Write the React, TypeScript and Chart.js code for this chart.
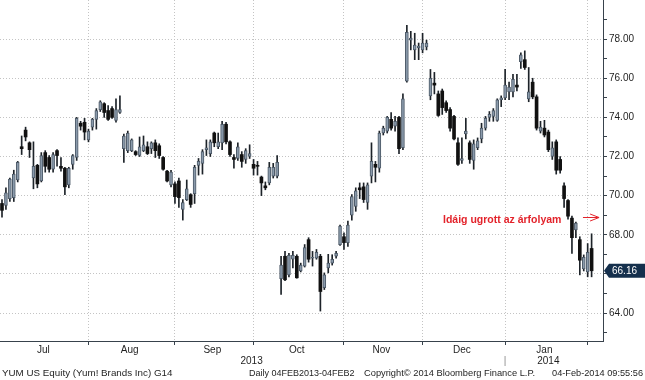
import React, { useEffect, useRef } from 'react';
import { Chart, registerables } from 'chart.js';

Chart.register(...registerables);

// Daily candles, 1 Jul 2013 (index 0) .. 4 Feb 2014 (index 150)
const OPEN: number[] = [
  69.6, 69.5, 69.85, 69.9, 70.8, 72.5, 73.35, 72.7, 70.9, 71.55,
  70.75, 72.2, 71.95, 71.35, 72.3, 71.5, 71.4, 70.55, 71.6, 71.95,
  73.7, 73.75, 72.85, 73.5, 73.9, 74.4, 74.7, 74.35, 74.45, 73.85,
  74.25, 72.4, 72.3, 72.3, 72.25, 72.05, 72.3, 72.5, 72.4, 72.7,
  72.55, 71.95, 71.25, 70.55, 70.6, 70.75, 69.3, 69.8, 70.05, 70.1,
  71.55, 71.65, 72.35, 72.15, 73.2, 72.5, 72.7, 73.65, 72.75, 71.95,
  71.9, 72.1, 71.85, 72.0, 71.6, 71.55, 70.95, 70.5, 70.65, 71.0,
  71.0, 65.75, 66.9, 65.95, 66.75, 66.9, 66.15, 66.4, 67.75, 66.8,
  66.8, 66.9, 65.3, 66.3, 66.55, 66.9, 67.5, 67.9, 67.6, 69.0,
  69.45, 70.4, 70.45, 69.65, 71.0, 71.6, 71.4, 73.2, 73.3, 73.9,
  73.55, 74.0, 72.45, 75.85, 77.95, 77.45, 77.55, 77.45, 77.6, 75.1,
  75.75, 75.2, 75.35, 74.75, 74.4, 74.05, 72.7, 71.8, 73.15, 72.7,
  71.8, 72.45, 72.9, 73.45, 74.0, 74.05, 73.85, 74.9, 75.0, 75.3,
  75.3, 75.65, 76.85, 76.95, 74.95, 75.8, 75.05, 73.3, 73.45, 73.25,
  72.0, 72.75, 71.85, 70.5, 69.75, 68.85, 68.25, 67.75, 66.25, 66.1, 67.3,
];
const HIGH: number[] = [
  69.8, 70.4, 70.9, 71.3, 71.75, 73.05, 73.5, 72.75, 72.75, 71.6,
  72.2, 72.3, 72.05, 72.2, 72.35, 71.95, 71.45, 71.45, 72.1, 74.0,
  73.8, 73.95, 73.4, 73.95, 74.45, 74.85, 74.75, 74.6, 74.55, 74.95,
  75.1, 73.15, 73.3, 72.9, 72.3, 73.0, 73.05, 72.75, 72.75, 72.85,
  72.65, 72.0, 71.3, 71.3, 70.7, 70.9, 69.8, 70.8, 70.1, 71.55,
  71.9, 72.35, 72.85, 72.85, 73.25, 73.2, 73.8, 73.75, 72.8, 72.1,
  72.7, 72.25, 72.4, 72.6, 71.85, 71.75, 71.0, 70.7, 71.7, 71.65,
  72.05, 66.9, 67.15, 67.05, 67.15, 66.98, 66.55, 67.5, 67.85, 67.15,
  67.25, 67.0, 66.05, 67.0, 66.98, 67.15, 68.5, 68.1, 68.7, 70.05,
  70.4, 70.65, 70.65, 70.65, 72.7, 71.75, 73.3, 73.55, 74.05, 74.25,
  74.05, 74.05, 75.2, 78.7, 78.4, 78.3, 77.8, 78.3, 77.95, 76.45,
  76.3, 75.35, 75.45, 74.85, 74.5, 74.1, 72.95, 72.95, 73.95, 72.8,
  72.85, 72.95, 73.7, 74.05, 74.3, 74.45, 74.95, 75.1, 76.45, 75.8,
  76.2, 76.2, 77.3, 77.4, 76.55, 76.0, 75.15, 73.8, 73.85, 73.35,
  72.75, 72.85, 72.0, 70.65, 69.8, 68.95, 68.65, 67.9, 66.97, 67.55, 68.05,
];
const LOW: number[] = [
  68.9, 69.3, 69.7, 69.7, 70.7, 72.1, 72.8, 71.95, 70.35, 70.4,
  70.7, 71.2, 71.2, 71.2, 71.5, 71.25, 70.05, 70.4, 71.35, 71.8,
  73.35, 72.85, 72.75, 73.35, 73.4, 74.3, 74.0, 73.85, 73.95, 73.75,
  74.2, 71.7, 72.2, 72.25, 72.05, 72.0, 72.25, 72.1, 72.15, 71.95,
  71.9, 71.3, 70.7, 70.45, 69.6, 69.4, 68.75, 69.75, 69.4, 69.6,
  71.05, 71.1, 72.05, 72.0, 72.5, 72.4, 72.35, 72.65, 72.0, 71.4,
  71.8, 71.45, 71.65, 71.9, 71.05, 71.05, 70.0, 70.3, 70.55, 70.9,
  70.9, 64.95, 65.65, 65.85, 66.3, 65.78, 66.1, 66.35, 66.6, 66.4,
  66.75, 64.1, 65.2, 66.05, 66.45, 66.8, 67.45, 67.25, 67.4, 68.75,
  69.2, 69.85, 69.65, 69.3, 70.65, 70.7, 71.2, 73.1, 73.2, 73.35,
  73.3, 72.15, 72.35, 75.8, 77.45, 76.95, 76.95, 77.3, 77.45, 74.9,
  75.2, 74.05, 74.15, 74.25, 73.3, 72.85, 71.55, 71.65, 72.9, 71.65,
  71.35, 72.35, 72.7, 73.35, 73.8, 73.8, 73.8, 74.55, 74.9, 74.9,
  75.05, 75.35, 76.5, 76.45, 74.8, 74.95, 73.35, 73.2, 73.0, 72.25,
  71.85, 71.1, 71.15, 69.4, 68.8, 67.05, 67.85, 65.95, 66.15, 65.85, 65.85,
];
const CLOSE: number[] = [
  69.25, 70.15, 70.85, 71.1, 71.7, 72.4, 73.0, 72.35, 71.5, 70.6,
  72.05, 71.5, 71.35, 72.1, 72.05, 71.4, 70.45, 71.4, 72.05, 73.95,
  73.55, 73.25, 73.3, 73.9, 74.35, 74.8, 74.25, 73.9, 74.0, 74.4,
  74.4, 73.05, 73.2, 72.85, 72.1, 72.5, 72.6, 72.15, 72.7, 72.3,
  72.05, 71.35, 70.75, 71.2, 69.95, 69.9, 69.65, 70.35, 69.55, 71.45,
  71.75, 72.25, 72.45, 72.75, 72.7, 72.75, 73.65, 72.75, 72.1, 71.85,
  72.5, 71.75, 72.3, 72.15, 71.4, 71.5, 70.65, 70.4, 71.45, 71.45,
  71.7, 66.45, 65.7, 66.95, 66.95, 65.8, 66.45, 67.35, 66.75, 66.85,
  67.1, 65.1, 65.95, 66.55, 66.75, 67.05, 68.45, 67.6, 68.5, 69.95,
  70.25, 70.3, 69.8, 70.55, 71.75, 71.45, 73.2, 73.45, 74.0, 73.45,
  73.8, 72.4, 74.95, 78.35, 78.05, 77.7, 77.65, 77.8, 77.8, 76.0,
  75.65, 74.1, 74.5, 74.35, 73.45, 72.9, 71.6, 71.9, 73.3, 71.85,
  72.65, 72.8, 73.45, 73.95, 74.15, 74.35, 74.9, 75.0, 75.65, 75.55,
  75.95, 75.55, 77.2, 76.55, 75.3, 75.05, 73.45, 73.5, 73.1, 72.35,
  72.45, 71.3, 71.3, 69.85, 68.95, 67.85, 68.6, 66.7, 66.85, 67.1, 66.16,
];

// first trading-day index of each month (Jul 2013 .. Feb 2014)
const MONTH_STARTS = [0, 22, 44, 64, 87, 107, 128, 149];
const MONTH_NAMES = ['Jul', 'Aug', 'Sep', 'Oct', 'Nov', 'Dec', 'Jan'];
const YEAR_NAMES = ['2013', '2014'];
const YEAR_STARTS = [0, 128];
const Y_TICKS = [63, 64, 65, 66, 67, 68, 69, 70, 71, 72, 73, 74, 75, 76, 77, 78, 79];

const NOTE_TEXT = 'Idáig ugrott az árfolyam';
const NOTE_AT = { x: 112.2, y: 68.75 };
const ARROW_AT = { x0: 147.8, x1: 151.9, y: 68.93 };
const FOOTER = [
  { text: 'YUM US Equity (Yum! Brands Inc) G14', px: 2, align: 'left', size: 9.8 },
  { text: 'Daily 04FEB2013-04FEB2', px: 249, align: 'left', size: 9 },
  { text: 'Copyright\u00A9 2014 Bloomberg Finance L.P.', px: 364, align: 'left', size: 9.3 },
  { text: '04-Feb-2014 09:55:56', px: 643, align: 'right', size: 9.2 },
];

const X_MIN = -0.51;
const X_MAX = 152.9;
const Y_MIN = 62.57;
const Y_MAX = 80;

const FONT = '"Liberation Sans", Arial, sans-serif';
const GRID = '#c4c4c4';
const AXIS = '#38424c';
const TEXT = '#1e1e1e';
const UP_FILL = '#8a9aab';
const UP_EDGE = '#4d5a68';
const DOWN = '#111111';
const WICK = '#1d2329';

type XT = { value: number; label: string | string[]; kind: string };

function buildXTicks(): XT[] {
  const t: XT[] = [];
  for (let k = 0; k < MONTH_NAMES.length; k++) {
    t.push({ value: (MONTH_STARTS[k] + MONTH_STARTS[k + 1] - 1) / 2, label: MONTH_NAMES[k], kind: 'm' });
  }
  for (let k = 1; k < MONTH_STARTS.length; k++) {
    const isYear = YEAR_STARTS.indexOf(MONTH_STARTS[k]) > 0;
    t.push({ value: MONTH_STARTS[k], label: isYear ? ['', '|'] : '', kind: 'b' });
  }
  const last = CLOSE.length - 1;
  for (let j = 0; j < YEAR_NAMES.length; j++) {
    const s = YEAR_STARTS[j];
    const e = j + 1 < YEAR_STARTS.length ? YEAR_STARTS[j + 1] - 1 : last;
    t.push({ value: (s + e) / 2, label: ['', YEAR_NAMES[j]], kind: 'y' });
  }
  t.sort((a, b) => a.value - b.value);
  return t;
}

const overlay = {
  id: 'overlay',
  afterDraw(chart: any) {
    const { ctx, scales } = chart;
    const x = scales.x;
    const y = scales.y;
    const area = chart.chartArea;
    ctx.save();
    // annotation
    ctx.font = 'bold 10.5px ' + FONT;
    ctx.fillStyle = '#e3232b';
    ctx.textBaseline = 'middle';
    ctx.textAlign = 'left';
    ctx.fillText(NOTE_TEXT, x.getPixelForValue(NOTE_AT.x), y.getPixelForValue(NOTE_AT.y));
    // arrow
    const ax0 = x.getPixelForValue(ARROW_AT.x0);
    const ax1 = x.getPixelForValue(ARROW_AT.x1);
    const ay = Math.round(y.getPixelForValue(ARROW_AT.y)) + 0.5;
    ctx.strokeStyle = '#e3232b';
    ctx.lineWidth = 1;
    ctx.beginPath();
    ctx.moveTo(ax0, ay);
    ctx.lineTo(ax1, ay);
    ctx.moveTo(ax1 - 9, ay - 3.5);
    ctx.lineTo(ax1, ay);
    ctx.lineTo(ax1 - 9, ay + 3.5);
    ctx.stroke();
    // last price tag
    const last = CLOSE[CLOSE.length - 1];
    const py = y.getPixelForValue(last);
    const left = area.right + 1;
    ctx.fillStyle = '#15304d';
    ctx.beginPath();
    ctx.moveTo(left, py);
    ctx.lineTo(left + 5, py - 7);
    ctx.lineTo(chart.width, py - 7);
    ctx.lineTo(chart.width, py + 7);
    ctx.lineTo(left + 5, py + 7);
    ctx.closePath();
    ctx.fill();
    ctx.fillStyle = '#ffffff';
    ctx.font = '10px ' + FONT;
    ctx.textBaseline = 'middle';
    ctx.fillText(last.toFixed(2), left + 8, py + 0.5);
    // footer
    ctx.fillStyle = TEXT;
    for (const f of FOOTER) {
      ctx.font = f.size + 'px ' + FONT;
      ctx.textAlign = f.align as CanvasTextAlign;
      ctx.fillText(f.text, f.px, 373.5);
    }
    ctx.restore();
  },
};

export default function App() {
  const ref = useRef<HTMLCanvasElement>(null);
  useEffect(() => {
    document.body.style.margin = '0';
    const xTicks = buildXTicks();
    const idx = OPEN.map((_, i) => i);
    const isUp = (i: number) => CLOSE[i] >= OPEN[i];
    const chart = new Chart(ref.current as HTMLCanvasElement, {
      type: 'bar',
      data: {
        datasets: [
          {
            label: 'body',
            order: 0,
            grouped: false,
            data: idx.map((i) => ({ x: i, y: [Math.min(OPEN[i], CLOSE[i]), Math.max(OPEN[i], CLOSE[i])] })),
            barThickness: 3,
            minBarLength: 1,
            backgroundColor: (c: any) => (isUp(c.dataIndex) ? UP_FILL : DOWN),
            borderColor: (c: any) => (isUp(c.dataIndex) ? UP_EDGE : DOWN),
            borderWidth: (c: any) => (isUp(c.dataIndex) ? 1 : 0),
            borderSkipped: false,
          } as any,
          {
            label: 'wick',
            order: 1,
            grouped: false,
            data: idx.map((i) => ({ x: i, y: [LOW[i], HIGH[i]] })),
            barThickness: 1,
            backgroundColor: WICK,
            borderWidth: 0,
          } as any,
        ],
      },
      options: {
        animation: false,
        responsive: false,
        maintainAspectRatio: false,
        layout: { padding: { left: 0, right: 0, top: 0, bottom: 14 } },
        plugins: { legend: { display: false }, tooltip: { enabled: false } },
        scales: {
          x: {
            type: 'linear',
            min: X_MIN,
            max: X_MAX,
            offset: false,
            afterBuildTicks: (s: any) => {
              s.ticks = xTicks.map((t) => ({ value: t.value, kind: t.kind }));
            },
            afterFit: (s: any) => {
              s.height = 25;
              s.paddingLeft = 0;
              s.paddingRight = 0;
            },
            ticks: {
              autoSkip: false,
              maxRotation: 0,
              minRotation: 0,
              padding: 0,
              font: { family: FONT, size: 10, lineHeight: 1.1 },
              color: (c: any) => (c.tick && c.tick.kind === 'b' ? '#8a8a8a' : TEXT),
              callback: (_v: any, i: number) => xTicks[i].label,
            },
            grid: {
              offset: false,
              drawTicks: true,
              tickLength: 4,
              color: (c: any) => (c.tick && c.tick.kind === 'b' ? GRID : 'rgba(0,0,0,0)'),
              tickColor: (c: any) => (c.tick && c.tick.kind === 'b' ? AXIS : 'rgba(0,0,0,0)'),
            },
            border: { display: true, color: AXIS, width: 1, dash: [1, 2] },
          } as any,
          y: {
            type: 'linear',
            position: 'right',
            min: Y_MIN,
            max: Y_MAX,
            beginAtZero: false,
            afterBuildTicks: (s: any) => {
              s.ticks = Y_TICKS.map((v) => ({ value: v }));
            },
            afterFit: (s: any) => {
              s.width = 42;
              s.paddingTop = 0;
              s.paddingBottom = 0;
            },
            ticks: {
              padding: 2,
              font: { family: FONT, size: 10 },
              color: TEXT,
              callback: (v: any) => (Number(v) % 2 === 0 ? Number(v).toFixed(2) : ''),
            },
            grid: {
              drawTicks: true,
              tickLength: 4,
              color: (c: any) => (c.tick && c.tick.value % 2 === 0 ? GRID : 'rgba(0,0,0,0)'),
              tickColor: AXIS,
            },
            border: { display: true, color: AXIS, width: 1, dash: [1, 2] },
          } as any,
        },
      },
      plugins: [overlay],
    } as any);
    return () => chart.destroy();
  }, []);
  return (
    <div style={{ width: 645, height: 380, background: '#ffffff' }}>
      <canvas ref={ref} width={645} height={380} style={{ display: 'block', width: 645, height: 380 }} />
    </div>
  );
}
